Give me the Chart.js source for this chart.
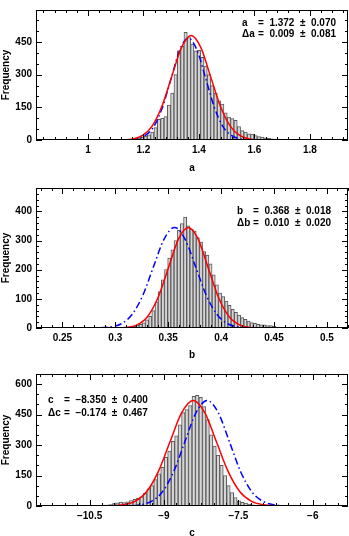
<!doctype html>
<html lang="en">
<head>
  <meta charset="utf-8">
  <title>parameter histograms</title>
  <style>
    body { margin: 0; background: #fff; }
    .panel { position: absolute; left: 0; }
  </style>
</head>
<body>
  <canvas class="panel" id="chartA" width="349" height="174" style="top:0px"></canvas>
  <canvas class="panel" id="chartB" width="349" height="183" style="top:178px"></canvas>
  <canvas class="panel" id="chartC" width="349" height="178" style="top:361px"></canvas>

  <script src="https://cdn.jsdelivr.net/npm/chart.js@4/dist/chart.umd.min.js"></script>
  <script>
  // ---- panel a ----
  const aStart = 1.100, aBin = 0.012;
  const aCounts = [0, 0, 1, 2, 3, 4, 6, 9, 13, 18, 24, 36, 57, 95, 100, 107, 160, 215, 300, 410,
    430, 495, 470, 440, 410, 412, 380, 340, 300, 250, 215, 180, 165, 125, 105, 98, 90, 62, 43, 36,
    28, 27, 20, 16, 13, 10, 8, 5, 4, 4, 3, 2, 1, 1, 0];
  const aRedX = [1.07, 1.092, 1.127, 1.162, 1.197, 1.232, 1.267, 1.302, 1.337, 1.372, 1.407, 1.442, 1.477, 1.512, 1.547, 1.582, 1.617, 1.652, 1.70];
  const aRedY = [0, 0, 1, 5, 21, 65, 156, 291, 424, 480, 424, 291, 156, 65, 21, 5, 1, 0, 0];
  const aBlueX = [1.05, 1.114, 1.145, 1.176, 1.207, 1.238, 1.269, 1.300, 1.331, 1.362, 1.393, 1.424, 1.455, 1.486, 1.517, 1.548, 1.579, 1.610, 1.66];
  const aBlueY = [0, 0, 1, 5, 21, 63, 152, 284, 413, 468, 413, 284, 152, 63, 21, 5, 1, 0, 0];
  const aXTicks = [1, 1.2, 1.4, 1.6, 1.8];
  const aYTicks = [0, 150, 300, 450];

  // ---- panel b ----
  const bStart = 0.300, bBin = 0.003;
  const bCounts = [0, 1, 1, 2, 3, 5, 7, 10, 13, 18, 28, 40, 60, 90, 125, 165, 200, 240, 268, 300,
    335, 358, 380, 350, 338, 332, 310, 295, 262, 250, 220, 182, 148, 120, 108, 92, 78, 64, 54, 44,
    36, 30, 24, 19, 16, 13, 11, 11, 8, 8, 6, 3, 2, 1];
  const bRedX = [0.29, 0.30, 0.31, 0.32, 0.33, 0.34, 0.35, 0.36, 0.369, 0.378, 0.388, 0.398, 0.408, 0.418, 0.428, 0.438, 0.45];
  const bRedY = [0, 0.3, 2, 10, 37, 101, 204, 307, 345, 307, 204, 101, 37, 10, 2, 0.3, 0];
  const bBlueX = [0.286, 0.296, 0.306, 0.316, 0.326, 0.336, 0.346, 0.356, 0.366, 0.376, 0.386, 0.396, 0.406, 0.416, 0.426, 0.445];
  const bBlueY = [1, 4, 15, 47, 112, 209, 304, 345, 304, 209, 112, 47, 15, 4, 1, 0];
  const bXTicks = [0.25, 0.3, 0.35, 0.4, 0.45, 0.5];
  const bYTicks = [0, 100, 200, 300, 400];

  // ---- panel c ----
  const cStart = -10.50, cBin = 0.07;
  const cCounts = [1, 2, 2, 3, 4, 5, 7, 12, 16, 19, 17, 20, 27, 33, 38, 45, 62, 84, 100, 130,
    158, 190, 240, 270, 318, 345, 400, 460, 475, 495, 540, 545, 535, 490, 425, 350, 295, 250, 200, 150,
    100, 66, 42, 26, 18, 14, 9, 6, 3, 2, 1];
  const cRedX = [-10.29, -10.055, -9.82, -9.585, -9.35, -9.115, -8.88, -8.645, -8.41, -8.175, -7.94, -7.705, -7.47, -7.235, -7.0, -6.765, -6.53];
  const cRedY = [0, 1, 6, 23, 70, 169, 315, 459, 520, 459, 315, 169, 70, 23, 6, 1, 0];
  const cBlueX = [-9.93, -9.705, -9.48, -9.255, -9.03, -8.805, -8.58, -8.355, -8.13, -7.905, -7.68, -7.455, -7.23, -7.005, -6.78, -6.555, -6.33];
  const cBlueY = [0, 1, 6, 23, 70, 169, 316, 459, 520, 459, 316, 169, 70, 23, 6, 1, 0];
  const cXTicks = [-10.5, -9, -7.5, -6];
  const cYTicks = [0, 150, 300, 450, 600];

  const FONT = {family: '"Liberation Sans", Arial, sans-serif', size: 10, weight: 'bold'};

  // box round the plot, ticks pointing inwards on all four sides, fit text
  const framePlugin = {
    id: 'frame',
    afterDatasetsDraw(chart, args, o) {
      const {ctx, chartArea: ca, scales: {x, y}} = chart;
      ctx.save();
      ctx.strokeStyle = '#000';
      ctx.lineWidth = 1;
      ctx.strokeRect(ca.left + 0.5, ca.top + 0.5, ca.right - ca.left - 1, ca.bottom - ca.top - 1);
      ctx.beginPath();
      const isMajor = (v, step) => Math.abs(v / step - Math.round(v / step)) < 1e-6;
      for (let k = Math.ceil(x.min / o.xMinor); k * o.xMinor <= x.max; k++) {
        const v = k * o.xMinor;
        const px = Math.round(x.getPixelForValue(v)) + 0.5;
        const len = isMajor(v, o.xMajor) ? 6 : 3;
        ctx.moveTo(px, ca.bottom); ctx.lineTo(px, ca.bottom - len);
        ctx.moveTo(px, ca.top); ctx.lineTo(px, ca.top + len);
      }
      for (let k = Math.ceil(y.min / o.yMinor); k * o.yMinor <= y.max; k++) {
        const v = k * o.yMinor;
        const py = Math.round(y.getPixelForValue(v)) + 0.5;
        const len = isMajor(v, o.yMajor) ? 6 : 3;
        ctx.moveTo(ca.left, py); ctx.lineTo(ca.left + len, py);
        ctx.moveTo(ca.right, py); ctx.lineTo(ca.right - len, py);
      }
      ctx.stroke();

      ctx.fillStyle = '#000';
      ctx.font = 'bold 10px "Liberation Sans", Arial, sans-serif';
      ctx.textBaseline = 'middle';
      o.lines.forEach(l => {
        ctx.fillText(l[0], o.tx, l[2]);
        ctx.fillText(l[1], o.tx + o.eq, l[2]);
      });
      ctx.restore();
    }
  };

  function histPoints(start, bin, counts) {
    return counts.map((c, i) => ({x: start + i * bin, y: c}));
  }

  function curve(xs, ys) {
    return xs.map((v, i) => ({x: v, y: ys[i]}));
  }

  function makeChart(id, p) {
    const ctx = document.getElementById(id).getContext('2d');
    return new Chart(ctx, {
      type: 'bar',
      data: {
        datasets: [
          {
            type: 'line',
            data: curve(p.redX, p.redY),
            borderColor: '#ff0000',
            borderWidth: 1.5,
            pointRadius: 0,
            cubicInterpolationMode: 'monotone',
            order: 0,
          },
          {
            type: 'line',
            data: curve(p.blueX, p.blueY),
            borderColor: '#0000ff',
            borderWidth: 1.5,
            borderDash: [7, 3, 1.5, 3],
            pointRadius: 0,
            cubicInterpolationMode: 'monotone',
            order: 1,
          },
          {
            data: histPoints(p.start, p.bin, p.counts),
            backgroundColor: '#d6d6d6',
            borderColor: '#5a5a5a',
            borderWidth: 1,
            barPercentage: 1,
            categoryPercentage: 1,
            order: 2,
          },
        ],
      },
      options: {
        responsive: false,
        animation: false,
        layout: {padding: {top: p.padTop, right: 1, left: 0, bottom: 0}},
        scales: {
          x: {
            type: 'linear',
            offset: false,
            min: p.xMin,
            max: p.xMax,
            grid: {display: false, drawTicks: false},
            border: {display: false},
            afterBuildTicks: s => { s.ticks = p.xTicks.map(v => ({value: v})); },
            ticks: {
              autoSkip: false,
              maxRotation: 0,
              padding: 4,
              color: '#000',
              font: FONT,
              callback: v => String(v).replace('-', '\u2212'),
            },
            title: {display: true, text: p.name, color: '#000', font: FONT, padding: 0},
            afterFit: s => { s.height = p.xHeight; },
          },
          y: {
            min: 0,
            max: p.yMax,
            grid: {display: false, drawTicks: false},
            border: {display: false},
            afterBuildTicks: s => { s.ticks = p.yTicks.map(v => ({value: v})); },
            ticks: {autoSkip: false, padding: 4, color: '#000', font: FONT, callback: v => String(v)},
            title: {display: true, text: 'Frequency', color: '#000', font: FONT, padding: 0},
            afterFit: s => { s.width = 36; },
          },
        },
        plugins: {
          legend: {display: false},
          tooltip: {enabled: false},
          frame: {
            xMajor: p.xMajor, xMinor: p.xMinor, yMajor: p.yMajor, yMinor: p.yMinor,
            tx: p.tx, eq: p.eq, lines: p.lines,
          },
        },
      },
      plugins: [framePlugin],
    });
  }

  makeChart('chartA', {
    name: 'a', start: aStart, bin: aBin, counts: aCounts,
    redX: aRedX, redY: aRedY, blueX: aBlueX, blueY: aBlueY,
    xTicks: aXTicks, yTicks: aYTicks,
    xMin: 0.813, xMax: 1.937, xMajor: 0.2, xMinor: 0.04,
    yMax: 597, yMajor: 150, yMinor: 50,
    padTop: 1, xHeight: 34,
    tx: 242, eq: 16,
    lines: [['a', '=  1.372  \u00b1  0.070', 23], ['\u0394a', '=  0.009  \u00b1  0.081', 34]],
  });

  makeChart('chartB', {
    name: 'b', start: bStart, bin: bBin, counts: bCounts,
    redX: bRedX, redY: bRedY, blueX: bBlueX, blueY: bBlueY,
    xTicks: bXTicks, yTicks: bYTicks,
    xMin: 0.225, xMax: 0.52, xMajor: 0.05, xMinor: 0.01,
    yMax: 480, yMajor: 100, yMinor: 20,
    padTop: 9, xHeight: 33,
    tx: 237, eq: 16,
    lines: [['b', '=  0.368  \u00b1  0.018', 33], ['\u0394b', '=  0.010  \u00b1  0.020', 45]],
  });

  makeChart('chartC', {
    name: 'c', start: cStart, bin: cBin, counts: cCounts,
    redX: cRedX, redY: cRedY, blueX: cBlueX, blueY: cBlueY,
    xTicks: cXTicks, yTicks: cYTicks,
    xMin: -11.58, xMax: -5.29, xMajor: 1.5, xMinor: 0.25,
    yMax: 650, yMajor: 150, yMinor: 50,
    padTop: 13, xHeight: 33,
    tx: 48, eq: 16,
    lines: [['c', '=  \u22128.350  \u00b1  0.400', 39], ['\u0394c', '=  \u22120.174  \u00b1  0.467', 52]],
  });
  </script>
</body>
</html>
